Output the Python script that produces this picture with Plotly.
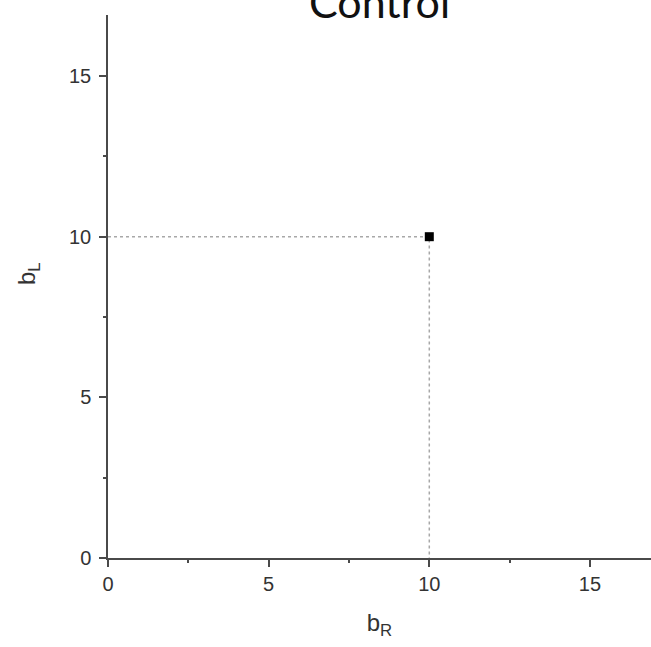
import plotly.graph_objects as go

# Control condition: single (b_R, b_L) point
b_R = [10]
b_L = [10]
tick_vals = [0, 5, 10, 15]
tick_text = ["0", "5", "10", "15"]

axis_color = "#4a4a4a"
text_color = "#333333"
label_font = dict(family="Liberation Sans, Arial", size=24, color=text_color)

fig = go.Figure()

# dotted guide lines from the point to each axis
fig.add_trace(go.Scatter(
    x=[0, b_R[0], b_R[0]], y=[b_L[0], b_L[0], 0],
    mode="lines",
    line=dict(color="#a8a8a8", width=1.5, dash="dot"),
    hoverinfo="skip", showlegend=False,
))

fig.add_trace(go.Scatter(
    x=b_R, y=b_L, mode="markers",
    marker=dict(symbol="square", size=9, color="black"),
    showlegend=False,
))

axis_common = dict(
    range=[0, 16.9],
    tickmode="array", tickvals=tick_vals, ticktext=tick_text,
    ticks="outside", ticklen=7, tickwidth=1.5, tickcolor=axis_color,
    minor=dict(ticks="outside", ticklen=3, tickwidth=1.5, tickcolor=axis_color, dtick=2.5, tick0=0),
    showline=True, linecolor=axis_color, linewidth=1.5,
    showgrid=False, zeroline=False,
    tickfont=dict(family="Liberation Sans, Arial", size=20, color=text_color),
)

fig.update_xaxes(
    **axis_common,
    ticklabelstandoff=0,
    title=dict(text="b<sub>R</sub>", font=label_font, standoff=20),
)
fig.update_yaxes(**axis_common, ticklabelstandoff=4)

# vertical axis label
fig.add_annotation(
    text="b<sub>L</sub>", xref="paper", yref="paper", x=0, y=0.523,
    xanchor="center", yanchor="middle", xshift=-80, textangle=-90,
    showarrow=False, font=label_font,
)

fig.add_annotation(
    text="Control", xref="paper", yref="paper", x=0.5, y=1.0,
    xanchor="center", yanchor="bottom", yshift=-14, showarrow=False,
    font=dict(family="Lato, Open Sans", size=43, color="#111111"),
)

fig.update_layout(
    width=651, height=647,
    margin=dict(l=108, r=0, t=15, b=89),
    plot_bgcolor="white", paper_bgcolor="white",
)

fig.write_html("out.html")
